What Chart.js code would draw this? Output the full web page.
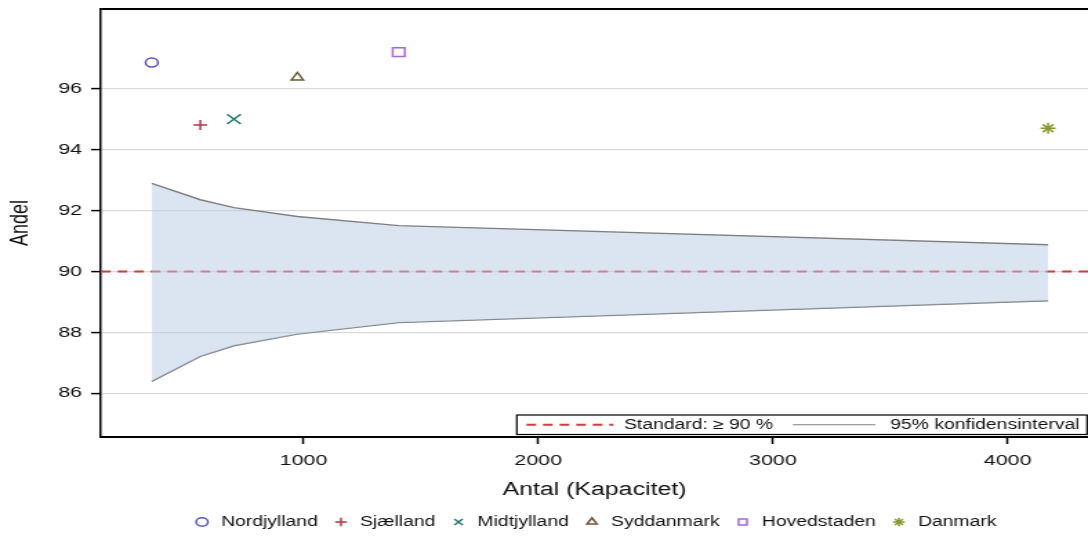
<!DOCTYPE html>
<html lang="da">
<head>
<meta charset="UTF-8">
<title>Andel efter antal (kapacitet)</title>
<script src="https://cdn.jsdelivr.net/npm/chart.js"></script>
<style>
    html, body { margin: 0; padding: 0; background: #fff; overflow: hidden; }
    /* the reference picture is widened sideways, so draw narrow and stretch */
    #wrap { width: 788px; height: 539px; transform: scaleX(1.3807); transform-origin: 0 0; }
</style>
</head>
<body>
<div id="wrap"><canvas id="chart"></canvas></div>
<script>
// data
const regions = ['Nordjylland', 'Sjælland', 'Midtjylland', 'Syddanmark', 'Hovedstaden', 'Danmark'];
const antal   = [354, 561, 704, 974, 1406, 4172];
const andel   = [96.87, 94.82, 95.01, 96.38, 97.21, 94.71];
const ciUpper = [92.90, 92.36, 92.10, 91.81, 91.51, 90.88];
const ciLower = [86.39, 87.21, 87.56, 87.94, 88.32, 89.04];
const standard = 90;
const xTicks = [1000, 2000, 3000, 4000];
const yTicks = [86, 88, 90, 92, 94, 96];
const xRange = [138, 4342];
const yRange = [84.56, 98.63];

// marker look per region
const markerStyles = ['circle', 'cross', 'crossRot', 'triangle', 'rect', 'star'];
const markerColors = ['#5a55c0', '#b8354a', '#1f7d70', '#6b5834', '#a866d6', '#8a9a2e'];
const markerSizes  = [4.5, 5, 7, 5, 6.2, 5.5];

const FONT = '"Liberation Sans", Arial, sans-serif';
Chart.defaults.font.family = FONT;
Chart.defaults.color = '#111';

const pointSets = regions.map((name, i) => ({
    label: name,
    data: [{ x: antal[i], y: andel[i] }],
    pointStyle: markerStyles[i],
    pointRadius: markerSizes[i],
    borderColor: markerColors[i],
    backgroundColor: 'rgba(0,0,0,0)',
    pointBorderWidth: 1.5
}));

const bandAndLine = [
    {
        type: 'line', label: 'ci-upper',
        data: antal.map((x, i) => ({ x: x, y: ciUpper[i] })),
        borderColor: '#808080', borderWidth: 1.4, pointRadius: 0,
        fill: '+1', backgroundColor: 'rgba(183,203,227,0.5)'
    },
    {
        type: 'line', label: 'ci-lower',
        data: antal.map((x, i) => ({ x: x, y: ciLower[i] })),
        borderColor: '#808080', borderWidth: 1.4, pointRadius: 0, fill: false
    },
    {
        type: 'line', label: 'standard',
        data: xRange.map(x => ({ x: x, y: standard })),
        borderColor: '#d23c3c', borderWidth: 2, borderDash: [7, 5], pointRadius: 0, fill: false
    }
];

// top frame line + the small legend box inside the plot
const framePlugin = {
    id: 'frame',
    afterDraw(chart) {
        const { ctx, chartArea: a } = chart;
        ctx.save();
        ctx.strokeStyle = '#000';
        ctx.lineWidth = 2;
        ctx.beginPath(); ctx.moveTo(a.left, a.top); ctx.lineTo(a.right, a.top); ctx.stroke();

        const w = 413, h = 19.5;
        const x0 = a.right - 0.7 - w, y0 = a.bottom - 2.5 - h, yc = y0 + h / 2;
        ctx.fillStyle = '#fff';
        ctx.fillRect(x0, y0, w, h);
        ctx.lineWidth = 1.2;
        ctx.strokeRect(x0, y0, w, h);

        ctx.strokeStyle = '#d23c3c'; ctx.lineWidth = 2; ctx.setLineDash([7, 5]);
        ctx.beginPath(); ctx.moveTo(x0 + 7, yc); ctx.lineTo(x0 + 70, yc); ctx.stroke();
        ctx.setLineDash([]);
        ctx.strokeStyle = '#808080'; ctx.lineWidth = 1.2;
        ctx.beginPath(); ctx.moveTo(x0 + 200, yc); ctx.lineTo(x0 + 259.6, yc); ctx.stroke();

        ctx.fillStyle = '#111';
        ctx.font = '14px ' + FONT;
        ctx.textBaseline = 'middle';
        ctx.textAlign = 'left';
        ctx.fillText('Standard: \u2265 90 %', x0 + 77.6, yc + 0.5);
        ctx.fillText('95% konfidensinterval', x0 + 270.5, yc + 0.5);
        ctx.restore();
    }
};

new Chart(document.getElementById('chart'), {
    type: 'scatter',
    data: { datasets: pointSets.concat(bandAndLine) },
    options: {
        responsive: true,
        maintainAspectRatio: false,
        animation: false,
        layout: { autoPadding: false, padding: { top: 9, right: 0, bottom: 0, left: 0 } },
        plugins: {
            tooltip: { enabled: false },
            legend: {
                position: 'bottom',
                fullSize: false,
                labels: {
                    usePointStyle: true,
                    boxWidth: 13.6,
                    boxHeight: 6,
                    padding: 10,
                    font: { size: 14 },
                    color: '#111',
                    filter: item => item.datasetIndex < regions.length
                }
            }
        },
        scales: {
            x: {
                type: 'linear',
                min: xRange[0], max: xRange[1],
                afterBuildTicks: s => { s.ticks = xTicks.map(v => ({ value: v })); },
                afterFit: s => { s.height = 68; s.paddingLeft = 0; s.paddingRight = 0; },
                grid: { drawOnChartArea: false, drawTicks: true, tickLength: 7, tickColor: '#000', tickWidth: 1.5 },
                border: { color: '#000', width: 2 },
                ticks: { padding: 7, font: { size: 15.5 }, color: '#111', maxRotation: 0, autoSkip: false, callback: v => String(v) },
                title: { display: true, text: 'Antal (Kapacitet)', font: { size: 18 }, color: '#111', padding: { top: 4, bottom: 4.5 } }
            },
            y: {
                type: 'linear',
                min: yRange[0], max: yRange[1],
                afterBuildTicks: s => { s.ticks = yTicks.map(v => ({ value: v })); },
                afterFit: s => { s.width = 73.2; s.paddingTop = 0; s.paddingBottom = 0; },
                grid: { color: '#dadada', lineWidth: 1.2, drawTicks: true, tickLength: 7.2, tickColor: '#000', tickWidth: 1.5 },
                border: { color: '#000', width: 1.5 },
                ticks: { padding: 6.6, font: { size: 15.5 }, color: '#111', autoSkip: false, callback: v => String(v) },
                title: { display: true, text: 'Andel', font: { size: 18 }, color: '#111', padding: { top: 4.3, bottom: 0 } }
            }
        }
    },
    plugins: [framePlugin]
});
</script>
</body>
</html>
